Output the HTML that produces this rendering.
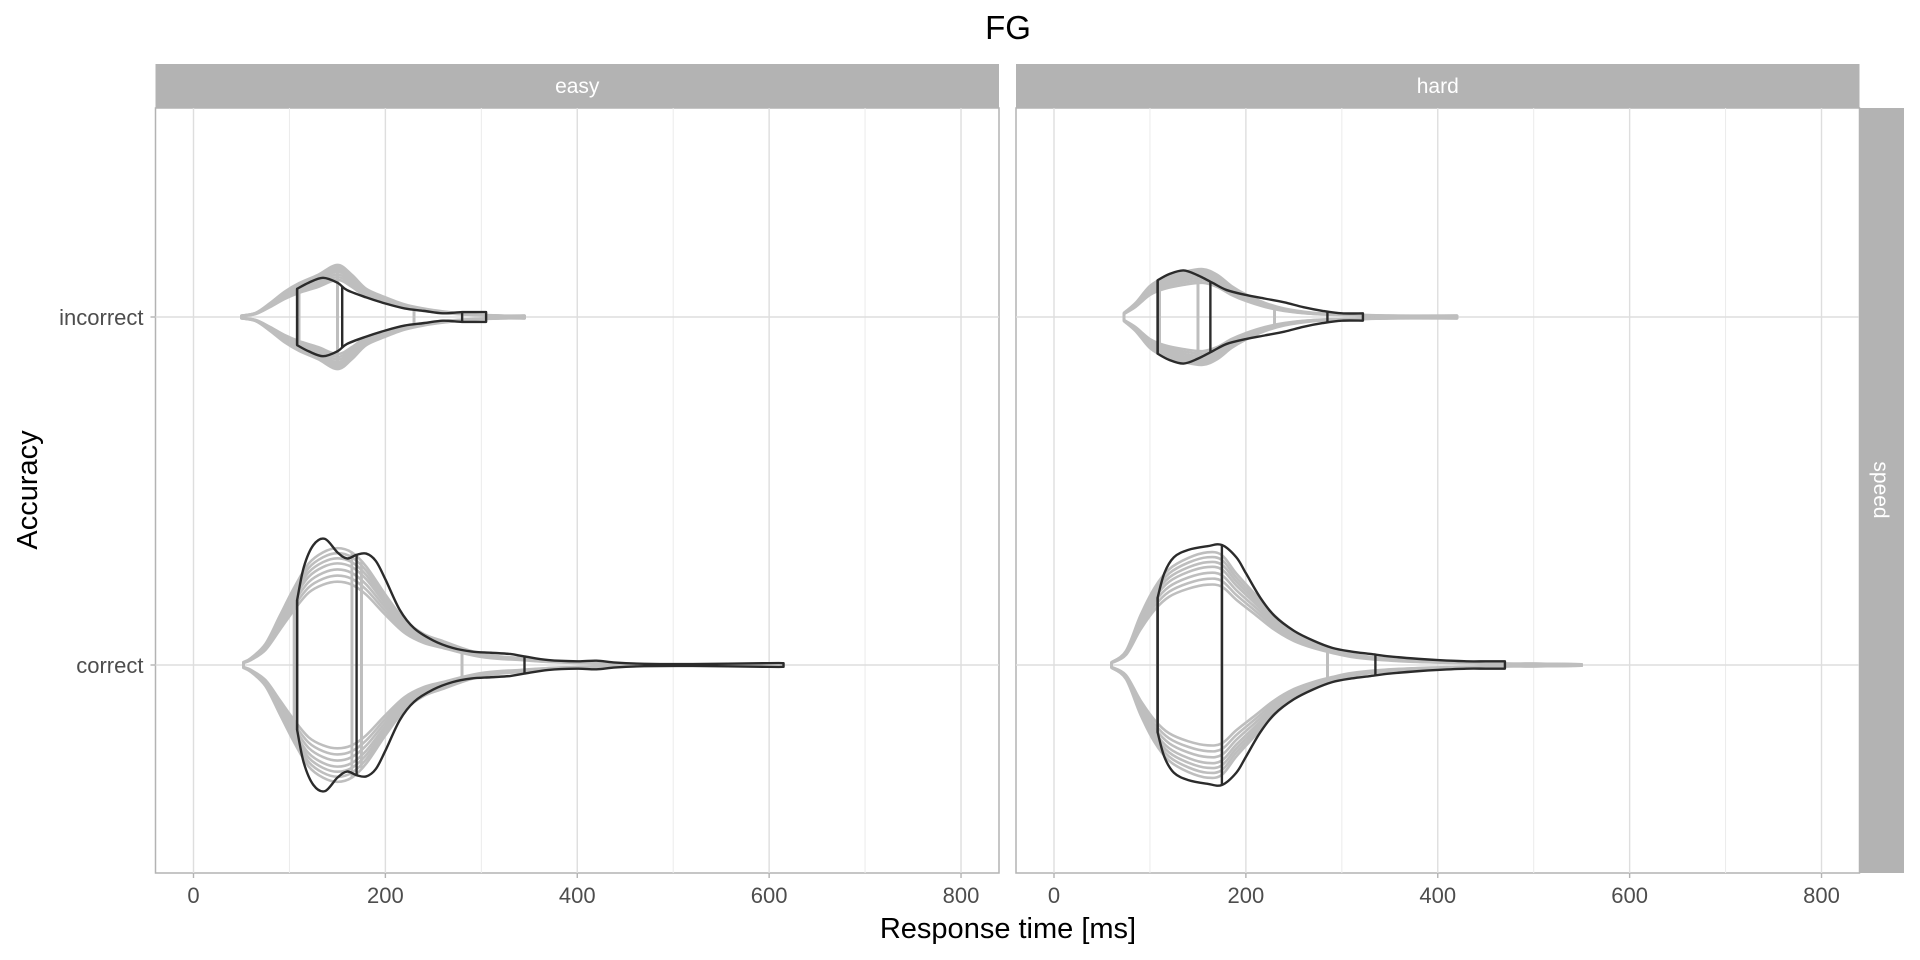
<!DOCTYPE html>
<html><head><meta charset="utf-8"><style>
body{margin:0;background:#fff;}
svg{display:block;font-family:"Liberation Sans",sans-serif;}
</style></head><body>
<svg id="chart" width="1920" height="960" viewBox="0 0 1920 960">
<text x="1008" y="39" font-size="33" text-anchor="middle" fill="#000">FG</text>
<g id="panels"></g>
<text x="1008" y="938" font-size="29" text-anchor="middle" fill="#000">Response time [ms]</text>
<text transform="translate(37,490) rotate(-90)" font-size="29" text-anchor="middle" fill="#000">Accuracy</text>
<rect x="1859" y="108" width="45" height="765" fill="#b3b3b3"></rect>
<text transform="translate(1874,490) rotate(90)" font-size="21" text-anchor="middle" fill="#fff">speed</text>
</svg>
<script>
const panelNames = ["easy","hard"];
const categories = ["incorrect","correct"];
const xTicks = [0,200,400,600,800];
const xMinor = [100,300,500,700];
// black (model) violins: [rt ms], [half-width density]
const easyIncRT = [108,120,135,150,160,180,200,220,240,260,280,300,305];
const easyIncW  = [23,28,32,28,22,16,11,7,5,3,4,4,4];
const easyIncQ  = [108,155,280];
const easyCorRT = [108,115,125,137,150,160,170,180,190,200,215,230,250,270,290,310,330,345,370,400,420,440,470,520,600,615];
const easyCorW  = [53,80,98,103,92,87,90,91,85,70,45,30,20,14,11,10,9,7,4,3,3.5,2,1,0.8,1.5,1.5];
const easyCorQ  = [108,170,345];
const hardIncRT = [108,120,135,150,165,180,200,220,240,260,280,300,322];
const hardIncW  = [30,35,38,34,28,22,18,15,12,8,5,3,3];
const hardIncQ  = [108,163,285];
const hardCorRT = [108,115,125,140,160,175,190,200,215,230,250,270,290,310,330,350,380,400,430,450,470];
const hardCorW  = [55,75,88,94,97,98,88,75,55,40,28,20,14,11,9,7,5,4,3,3,3];
const hardCorQ  = [108,175,335];
// gray (data) violins
const gEasyIncRT = [50,65,80,95,110,130,150,165,180,200,220,240,260,290,320,345];
const gEasyIncW  = [1,3,10,18,24,30,37,30,20,14,9,6,4,2,1,1];
const gEasyIncQ  = [110,150,230];
const gEasyCorRT = [52,60,75,90,105,120,135,150,165,180,200,220,240,260,280,300,320,340,370,400,430,460];
const gEasyCorW  = [2,5,15,35,55,72,80,83,80,70,50,32,22,17,12,8,6,5,3,2,1,0.5];
const gEasyCorQ  = [105,165,175,280];
const gHardIncRT = [73,85,100,115,135,155,170,185,200,220,240,270,300,350,420];
const gHardIncW  = [3,10,22,28,32,34,30,22,16,10,6,3,2,1,1];
const gHardIncQ  = [110,150,230];
const gHardCorRT = [60,75,90,105,120,140,160,175,190,210,230,250,270,290,310,340,380,420,470,500,550];
const gHardCorW  = [2,10,35,55,68,76,80,78,65,50,35,24,17,12,8,5,3,2,1,1,0.5];
const gHardCorQ  = [108,175,285];
const grayScales = [0.82,0.88,0.94,1.0,1.05,1.1,1.15];

const NS="http://www.w3.org/2000/svg";
const panelX=[155.5,1016], panelW=843.5, panelTop=108, panelBot=873;
function xScale(p,v){return panelX[p]+38+v*0.9594;}
function yScale(c){return [317,665][categories.indexOf(c)];}
function wScale(d){return d*1.2245;}
function mk(tag,attrs,parent){const e=document.createElementNS(NS,tag);for(const k in attrs)e.setAttribute(k,attrs[k]);parent.appendChild(e);return e;}
function smooth(pts){let d="M"+pts[0][0]+","+pts[0][1];for(let i=0;i<pts.length-1;i++){const p0=pts[Math.max(i-1,0)],p1=pts[i],p2=pts[i+1],p3=pts[Math.min(i+2,pts.length-1)];const c1=[p1[0]+(p2[0]-p0[0])/6,p1[1]+(p2[1]-p0[1])/6],c2=[p2[0]-(p3[0]-p1[0])/6,p2[1]-(p3[1]-p1[1])/6];d+=" C"+c1+" "+c2+" "+p2;}return d;}
function interpW(rt,w,v){for(let i=0;i<rt.length-1;i++){if(v>=rt[i]&&v<=rt[i+1]){const t=(v-rt[i])/(rt[i+1]-rt[i]);return w[i]+t*(w[i+1]-w[i]);}}return 0;}
function violin(g,p,cat,rt,w,q,scale,color,sw,name){
  const yc=yScale(cat);
  const top=rt.map((v,i)=>[xScale(p,v),yc-wScale(w[i]*scale)]);
  const bot=rt.map((v,i)=>[xScale(p,v),yc+wScale(w[i]*scale)]).reverse();
  const d=smooth(top)+" L"+bot[0]+" "+smooth(bot).slice(1)+" Z";
  const path=mk("path",{d:d,fill:"none",stroke:color,"stroke-width":sw,"stroke-linejoin":"round"},g);
  
  
  q.forEach(qv=>{const hw=wScale(interpW(rt,w,qv)*scale);const l=mk("line",{x1:xScale(p,qv),x2:xScale(p,qv),y1:yc-hw,y2:yc+hw,stroke:color,"stroke-width":sw},g);
    
    });
}
const root=document.getElementById("panels");
const data=[
 [[gEasyIncRT,gEasyIncW,gEasyIncQ,easyIncRT,easyIncW,easyIncQ],[gEasyCorRT,gEasyCorW,gEasyCorQ,easyCorRT,easyCorW,easyCorQ]],
 [[gHardIncRT,gHardIncW,gHardIncQ,hardIncRT,hardIncW,hardIncQ],[gHardCorRT,gHardCorW,gHardCorQ,hardCorRT,hardCorW,hardCorQ]]];
panelNames.forEach((pn,p)=>{
  const g=mk("g",{},root);
  
  
  const bg=mk("rect",{x:panelX[p],y:panelTop,width:panelW,height:panelBot-panelTop,fill:"#fff",stroke:"#b3b3b3","stroke-width":1.5},g);
  
  
  xMinor.forEach(v=>mk("line",{x1:xScale(p,v),x2:xScale(p,v),y1:panelTop,y2:panelBot,stroke:"#ebebeb","stroke-width":1},g));
  xTicks.forEach(v=>{mk("line",{x1:xScale(p,v),x2:xScale(p,v),y1:panelTop,y2:panelBot,stroke:"#dedede","stroke-width":1.4},g);
    mk("line",{x1:xScale(p,v),x2:xScale(p,v),y1:panelBot,y2:panelBot+5,stroke:"#b3b3b3","stroke-width":1.4},g);
    const t=mk("text",{x:xScale(p,v),y:panelBot+30,"font-size":22,"text-anchor":"middle",fill:"#4d4d4d"},g);t.textContent=v;
    
    });
  categories.forEach(c=>{mk("line",{x1:panelX[p],x2:panelX[p]+panelW,y1:yScale(c),y2:yScale(c),stroke:"#dedede","stroke-width":1.4},g);
    if(p===0){mk("line",{x1:panelX[0]-5,x2:panelX[0],y1:yScale(c),y2:yScale(c),stroke:"#b3b3b3","stroke-width":1.4},g);
      const t=mk("text",{x:panelX[0]-12,y:yScale(c)+8,"font-size":22,"text-anchor":"end",fill:"#4d4d4d"},g);t.textContent=c;
      
      }});
  const st=mk("rect",{x:panelX[p],y:64,width:panelW,height:44,fill:"#b3b3b3"},g);
  
  
  const stt=mk("text",{x:panelX[p]+panelW/2,y:93,"font-size":21,"text-anchor":"middle",fill:"#fff"},g);stt.textContent=pn;
  
  
  categories.forEach((c,ci)=>{const d=data[p][ci];
    grayScales.forEach(s=>violin(g,p,c,d[0],d[1],d[2],s,"#bebebe",2.6,"data-violin-"+pn+"-"+c));
    violin(g,p,c,d[3],d[4],d[5],1,"#2b2b2b",2.4,"model-violin-"+pn+"-"+c);});
});
</script>
</body></html>
